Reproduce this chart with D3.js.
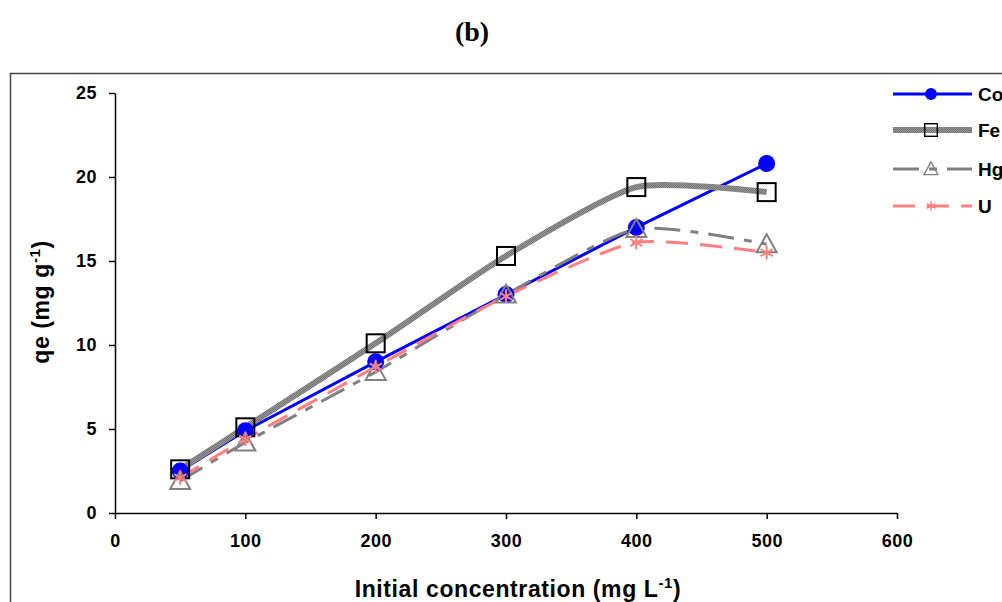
<!DOCTYPE html>
<html>
<head>
<meta charset="utf-8">
<script src="https://cdn.jsdelivr.net/npm/d3@7"></script>
<style>
  body { margin: 0; background: #fff; }
  svg { display: block; }
</style>
</head>
<body>
<div id="container"></div>
<script>
// Initial concentration (mg/L)
const conc = [50, 100, 200, 300, 400, 500];
// qe (mg/g) per metal
const coValues = [2.5, 4.9, 9.0, 13.0, 17.0, 20.8];
const feValues = [2.6, 5.1, 10.1, 15.3, 19.4, 19.1];
const hgValues = [1.9, 4.2, 8.4, 13.0, 16.9, 16.0];
const uValues  = [2.1, 4.4, 8.7, 12.9, 16.1, 15.5];
const seriesNames = ["Co", "Fe", "Hg", "U"];
const xTicks = [0, 100, 200, 300, 400, 500, 600];
const yTicks = [0, 5, 10, 15, 20, 25];

const width = 1002, height = 602;
const marginLeft = 115, marginTop = 93;

const svg = d3.select("#container").append("svg")
    .attr("width", width)
    .attr("height", height);

// checkered texture for the Fe line
const defs = svg.append("defs");
const pat = defs.append("pattern")
    .attr("id", "checker")
    .attr("patternUnits", "userSpaceOnUse")
    .attr("width", 2).attr("height", 2);
pat.append("rect").attr("width", 2).attr("height", 2).attr("fill", "#989898");
pat.append("rect").attr("width", 1).attr("height", 1).attr("fill", "#727272");
pat.append("rect").attr("x", 1).attr("y", 1).attr("width", 1).attr("height", 1).attr("fill", "#727272");

// outer frame (runs past the right and bottom edge)
svg.append("rect")
    .attr("x", 10.5).attr("y", 73.5)
    .attr("width", 1100).attr("height", 700)
    .attr("fill", "none")
    .attr("stroke", "#444")
    .attr("stroke-width", 1.5);

// title
svg.append("text")
    .attr("x", 472).attr("y", 41)
    .attr("text-anchor", "middle")
    .attr("font-family", "Liberation Serif, Times New Roman, serif")
    .attr("font-weight", "bold")
    .attr("font-size", 28)
    .text("(b)");

const x = d3.scaleLinear().domain([0, 600]).range([marginLeft, 897]);
const y = d3.scaleLinear().domain([0, 25]).range([513, marginTop]);

const fontFam = "Liberation Sans, Arial, sans-serif";

const xAxis = svg.append("g")
    .attr("transform", `translate(0,${y(0)})`)
    .call(d3.axisBottom(x).tickValues(xTicks).tickSize(6).tickSizeOuter(0).tickPadding(15));
const yAxis = svg.append("g")
    .attr("transform", `translate(${x(0)},0)`)
    .call(d3.axisLeft(y).tickValues(yTicks).tickSize(6).tickSizeOuter(0).tickPadding(12));

[xAxis, yAxis].forEach(g => {
  g.select(".domain").attr("stroke", "#000").attr("stroke-width", 1.5);
  g.selectAll(".tick line").attr("stroke", "#000").attr("stroke-width", 1.5);
  g.selectAll(".tick text")
      .attr("font-family", fontFam)
      .attr("font-weight", "bold")
      .attr("font-size", 18)
      .attr("letter-spacing", 0.5)
      .attr("fill", "#000");
});

// axis titles
const xt = svg.append("text")
    .attr("x", 518).attr("y", 597)
    .attr("text-anchor", "middle")
    .attr("font-family", fontFam)
    .attr("font-weight", "bold")
    .attr("font-size", 23)
    .attr("letter-spacing", 0.6);
xt.append("tspan").text("Initial concentration (mg L");
xt.append("tspan").attr("dy", -9).attr("font-size", 15).text("-1");
xt.append("tspan").attr("dy", 9).text(")");

const yt = svg.append("text")
    .attr("transform", "translate(49,302) rotate(-90)")
    .attr("text-anchor", "middle")
    .attr("font-family", fontFam)
    .attr("font-weight", "bold")
    .attr("font-size", 23)
    .attr("letter-spacing", 0.6);
yt.append("tspan").text("qe (mg g");
yt.append("tspan").attr("dy", -9).attr("font-size", 15).text("-1");
yt.append("tspan").attr("dy", 9).text(")");

const smooth = d3.curveCardinal.tension(0.35);
const series = [
  {name: seriesNames[0], values: coValues, stroke: "#0000ff", width: 3, dash: null, curve: d3.curveLinear, marker: "circle"},
  {name: seriesNames[1], values: feValues, stroke: "url(#checker)", width: 6, dash: null, curve: smooth, marker: "square"},
  {name: seriesNames[2], values: hgValues, stroke: "#808080", width: 3, dash: "26,10,8,10", curve: smooth, marker: "triangle"},
  {name: seriesNames[3], values: uValues, stroke: "#ff8080", width: 3, dash: "22,12", curve: smooth, marker: "asterisk"}
];

function drawMarker(g, type, cx, cy) {
  if (type === "circle") {
    g.append("circle").attr("cx", cx).attr("cy", cy).attr("r", 8.5).attr("fill", "#0000ff");
  } else if (type === "square") {
    g.append("rect").attr("x", cx - 9).attr("y", cy - 9).attr("width", 18).attr("height", 18)
        .attr("fill", "none").attr("stroke", "#000").attr("stroke-width", 2);
  } else if (type === "triangle") {
    g.append("path").attr("d", `M${cx},${cy - 10}L${cx + 10},${cy + 8}L${cx - 10},${cy + 8}Z`)
        .attr("fill", "none").attr("stroke", "#808080").attr("stroke-width", 2);
  } else if (type === "asterisk") {
    const r = 7;
    let d = `M${cx},${cy - r}L${cx},${cy + r}`;
    d += `M${cx - r * 0.87},${cy - r * 0.5}L${cx + r * 0.87},${cy + r * 0.5}`;
    d += `M${cx - r * 0.87},${cy + r * 0.5}L${cx + r * 0.87},${cy - r * 0.5}`;
    g.append("path").attr("d", d).attr("stroke", "#ff8080").attr("stroke-width", 2);
  }
}

const plot = svg.append("g");
series.forEach(s => {
  const pts = conc.map((c, i) => [x(c), y(s.values[i])]);
  plot.append("path")
      .attr("d", d3.line().curve(s.curve)(pts))
      .attr("fill", "none")
      .attr("stroke", s.stroke)
      .attr("stroke-width", s.width)
      .attr("stroke-dasharray", s.dash);
});
series.forEach(s => {
  const g = plot.append("g");
  conc.forEach((c, i) => drawMarker(g, s.marker, x(c), y(s.values[i])));
});

// legend
const legendY = [94, 130, 169, 206];
const legend = svg.append("g");
series.forEach((s, i) => {
  const ly = legendY[i];
  legend.append("line")
      .attr("x1", 893).attr("x2", 972).attr("y1", ly).attr("y2", ly)
      .attr("stroke", s.stroke)
      .attr("stroke-width", s.width)
      .attr("stroke-dasharray", s.dash);
  const g = legend.append("g").attr("transform", `translate(931,${ly}) scale(0.7) translate(-931,${-ly})`);
  drawMarker(g, s.marker, 931, ly);
  legend.append("text")
      .attr("x", 978).attr("y", ly + 7)
      .attr("font-family", fontFam)
      .attr("font-weight", "bold")
      .attr("font-size", 19)
      .text(s.name);
});
</script>
</body>
</html>
